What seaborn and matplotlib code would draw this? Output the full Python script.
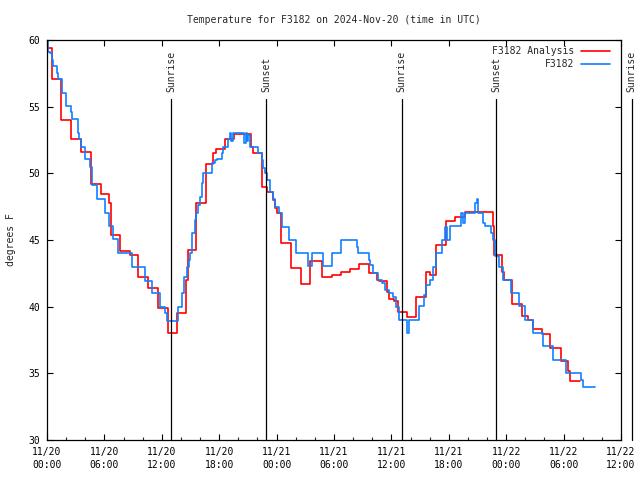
import numpy as np
import pandas as pd
import matplotlib
matplotlib.use("Agg")
import matplotlib.pyplot as plt
import matplotlib.dates as mdates
from matplotlib.lines import Line2D
import seaborn as sns

# ---- data (hours since 2024-11-20 00:00 UTC, degrees F), step series ----
analysis_hours = [0.0, 0.57, 1.47, 2.5, 3.56, 4.6, 5.62, 6.5, 6.65, 7.64, 8.68, 9.55,
                  10.6, 11.64, 12.6, 13.56, 14.5, 14.75, 15.6, 16.6, 17.3, 17.7, 18.6,
                  19.5, 21.3, 21.56, 22.5, 23.0, 23.6, 23.8, 24.0, 24.5, 25.5, 26.5,
                  27.5, 28.7, 29.75, 30.7, 31.67, 32.6, 33.7, 34.45, 34.7, 35.5, 35.7,
                  36.26, 36.7, 37.6, 38.6, 39.6, 40.0, 40.65, 41.7, 42.6, 43.7, 46.6,
                  46.7, 47.6, 47.75, 48.56, 49.6, 50.3, 50.75, 51.7, 52.6, 53.7, 54.5,
                  54.7, 55.7]
analysis_vals = [59.4, 57.1, 54.0, 52.6, 51.6, 49.2, 48.45, 47.8, 45.4, 44.2, 43.9, 42.25,
                 41.4, 39.9, 38.0, 39.5, 42.0, 44.25, 47.8, 50.7, 51.5, 51.8, 52.6,
                 52.95, 52.0, 51.5, 49.0, 48.6, 48.0, 47.4, 47.05, 44.75, 42.9, 41.7,
                 43.4, 42.25, 42.4, 42.6, 42.8, 43.2, 42.55, 42.0, 41.9, 41.1, 40.6,
                 40.4, 39.6, 39.2, 40.75, 42.6, 42.4, 44.6, 46.4, 46.75, 47.1, 46.05,
                 43.9, 42.6, 42.0, 40.2, 39.3, 39.0, 38.3, 37.95, 36.9, 35.95, 35.2,
                 34.45, 34.45]

obs_hours = [0.0, 0.15, 0.32, 0.5, 0.67, 1.09, 1.2, 1.58, 1.96, 2.48, 2.59, 3.28, 3.39,
             3.53, 3.98, 4.5, 4.68, 5.27, 6.07, 6.52, 6.94, 7.46, 8.86, 10.25, 11.0,
             11.8, 12.34, 12.58, 13.73, 14.08, 14.36, 14.6, 14.8, 14.95, 15.2, 15.47,
             15.58, 15.8, 16.0, 16.17, 16.34, 17.2, 17.56, 17.74, 18.26, 18.43, 18.95,
             19.13, 19.25, 19.4, 20.6, 20.75, 20.9, 21.05, 21.2, 22.1, 22.44, 22.6,
             22.8, 23.0, 23.3, 23.6, 23.83, 24.2, 24.6, 25.3, 26.0, 27.3, 27.7, 28.8,
             29.75, 30.7, 32.4, 32.5, 33.7, 33.75, 34.1, 34.6, 35.0, 35.3, 35.7, 36.2,
             36.5, 36.8, 37.65, 37.86, 38.87, 39.4, 39.6, 40.0, 40.37, 40.7, 41.24,
             41.6, 41.77, 42.1, 43.3, 43.5, 43.7, 44.7, 44.9, 45.07, 45.6, 45.77, 46.4,
             46.64, 46.8, 47.26, 47.68, 48.5, 49.3, 50.0, 50.75, 51.86, 52.84, 54.3,
             55.77, 56.0, 57.26]
obs_vals = [60.0, 59.1, 59.05, 58.5, 58.05, 57.55, 57.1, 56.0, 55.05, 54.6, 54.05, 53.0,
            52.6, 52.0, 51.1, 50.5, 49.1, 48.1, 47.0, 46.05, 45.05, 44.0, 43.0, 41.95,
            41.0, 40.0, 39.5, 38.95, 40.0, 41.0, 42.25, 43.0, 43.5, 44.0, 45.5, 46.5,
            47.0, 47.6, 48.25, 49.25, 50.0, 50.75, 51.0, 51.05, 51.5, 52.0, 52.6,
            53.0, 52.4, 53.0, 52.3, 53.0, 52.4, 52.9, 52.0, 51.5, 51.0, 50.4,
            50.0, 49.5, 48.6, 48.1, 47.5, 47.0, 46.0, 45.0, 44.0, 43.05, 44.0, 43.05,
            44.0, 45.0, 44.5, 44.0, 43.5, 43.1, 42.5, 42.0, 41.75, 41.25, 41.0, 40.75,
            40.0, 39.0, 38.0, 39.0, 40.05, 40.9, 41.6, 42.0, 43.0, 44.0, 45.0,
            46.0, 45.0, 46.05, 47.0, 46.3, 47.0, 47.75, 48.05, 47.0, 46.25, 46.05, 45.5,
            45.0, 43.8, 43.0, 42.0, 41.0, 40.05, 39.0, 38.0, 37.05, 36.0, 35.0,
            34.5, 34.0, 34.0]

event_hours = [13.0, 22.94, 37.06, 46.95, 61.1]
event_labels = ["Sunrise", "Sunset", "Sunrise", "Sunset", "Sunrise"]

title = "Temperature for F3182 on 2024-Nov-20 (time in UTC)"
series_names = ["F3182 Analysis", "F3182"]
y_label = "degrees F"

start = pd.Timestamp("2024-11-20 00:00")
def to_time(h):
    return start + pd.to_timedelta(np.asarray(h, dtype=float), unit="h")

df_a = pd.DataFrame({"time": to_time(analysis_hours), "temp": analysis_vals})
df_o = pd.DataFrame({"time": to_time(obs_hours), "temp": obs_vals})

sns.set_style("ticks")
plt.rcParams["font.family"] = ["DejaVu Sans Mono", "DejaVu Sans"]
plt.rcParams["font.size"] = 7

fig = plt.figure(figsize=(6.4, 4.8), dpi=100)
ax = fig.add_axes([47 / 640, 40 / 480, (621 - 47) / 640, 400 / 480])

red = "#ff0000"
blue = "#1080ff"
sns.lineplot(data=df_a, x="time", y="temp", ax=ax, color=red, lw=1.2,
             drawstyle="steps-post", estimator=None, sort=False)
sns.lineplot(data=df_o, x="time", y="temp", ax=ax, color=blue, lw=1.2,
             drawstyle="steps-post", estimator=None, sort=False)

x0 = start
x1 = start + pd.Timedelta(hours=60)
ax.set_xlim(x0, x1)
ax.set_ylim(30, 60)
ax.set_yticks(np.arange(30, 61, 5))

ax.xaxis.set_major_locator(mdates.HourLocator(byhour=[0, 6, 12, 18]))
ax.xaxis.set_major_formatter(mdates.DateFormatter("%m/%d\n%H:%M"))
ax.xaxis.set_minor_locator(mdates.HourLocator(byhour=range(0, 24, 2)))

ax.tick_params(axis="both", which="major", direction="in", length=4, width=0.8,
               labelsize=7, colors="black")
ax.tick_params(axis="x", which="major", top=True, pad=5)
ax.tick_params(axis="x", which="minor", direction="in", length=2, width=0.8, top=False)
ax.tick_params(axis="y", which="major", right=True, pad=5)
for lab in ax.get_xticklabels():
    lab.set_linespacing(1.35)

for s in ax.spines.values():
    s.set_visible(True)
    s.set_linewidth(0.9)
    s.set_color("black")

ax.set_xlabel("")
ax.set_ylabel(y_label, fontsize=7)
ax.yaxis.set_label_coords((16 - 47) / 574, 0.5)

# sunrise/sunset markers
for h, lab in zip(event_hours, event_labels):
    t = mdates.date2num(start + pd.Timedelta(hours=h))
    ax.plot([t, t], [30, 55.57], color="black", lw=0.9, clip_on=False)
    ax.text(t, 56.1, lab, rotation=90, ha="center", va="bottom", fontsize=7,
            clip_on=False)

handles = [Line2D([], [], color=red, lw=1.2), Line2D([], [], color=blue, lw=1.2)]
ax.legend(handles, series_names, loc="upper right", frameon=False, markerfirst=False,
          fontsize=7, handlelength=3.0, handletextpad=0.7, labelspacing=0.35,
          borderaxespad=0.0, borderpad=0.0,
          bbox_to_anchor=((610 - 47) / 574, 1 - 6 / 400))

fig.text(334 / 640, 1 - 20 / 480, title, ha="center", va="center", fontsize=7)

fig.savefig("out.png", dpi=100)
